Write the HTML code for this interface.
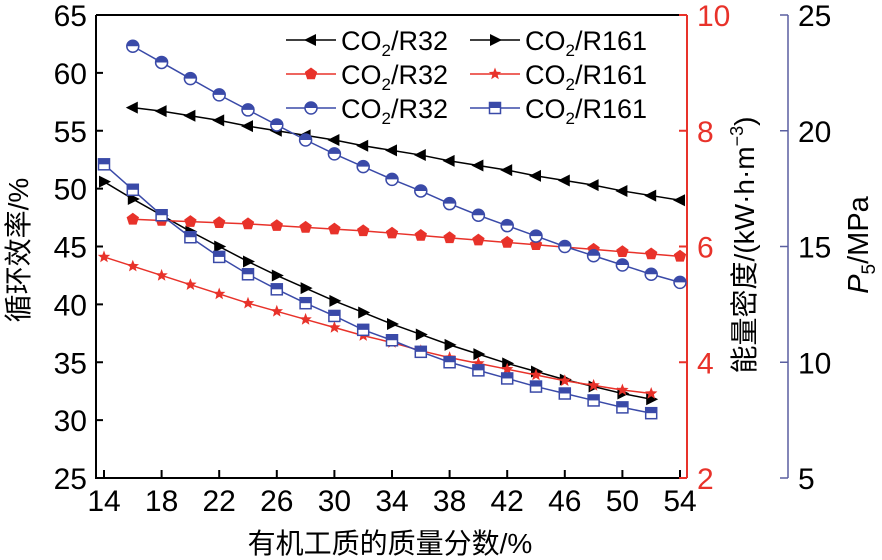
<!DOCTYPE html>
<html><head><meta charset="utf-8"><style>
body{margin:0;background:#fff}
svg{display:block;font-family:"Liberation Sans","Noto Sans CJK SC",sans-serif}
</style></head><body>
<svg id="c" width="882" height="560">
<g id="axes"></g><g id="series"></g><g id="legend"></g>
</svg>
<script>
const xVals16=[16,18,20,22,24,26,28,30,32,34,36,38,40,42,44,46,48,50,52,54];
const xVals14=[14,16,18,20,22,24,26,28,30,32,34,36,38,40,42,44,46,48,50,52];
const effR32=[57.0,56.7,56.3,55.9,55.4,55.0,54.6,54.2,53.7,53.3,52.9,52.4,52.0,51.6,51.1,50.7,50.3,49.8,49.4,49.0];
const effR161=[50.6,49.1,47.7,46.3,45.0,43.7,42.5,41.4,40.3,39.3,38.3,37.4,36.5,35.7,34.9,34.2,33.5,32.9,32.3,31.8];
const edR32=[6.47,6.45,6.43,6.41,6.39,6.36,6.33,6.30,6.27,6.23,6.19,6.15,6.11,6.07,6.03,5.99,5.95,5.91,5.87,5.83];
const edR161=[5.82,5.66,5.50,5.34,5.18,5.02,4.88,4.74,4.60,4.46,4.34,4.20,4.08,3.98,3.88,3.78,3.68,3.60,3.52,3.46];
const pR32=[23.65,22.95,22.25,21.55,20.9,20.25,19.6,19.0,18.45,17.9,17.4,16.85,16.35,15.9,15.45,15.0,14.6,14.2,13.8,13.45];
const pR161=[18.55,17.45,16.35,15.4,14.55,13.8,13.15,12.55,12.0,11.4,10.95,10.45,10.0,9.65,9.3,8.95,8.65,8.35,8.05,7.8];
const xTicks=[14,18,22,26,30,34,38,42,46,50,54];
const yTicks=[25,30,35,40,45,50,55,60,65];
const rTicks=[2,4,6,8,10];
const bTicks=[5,10,15,20,25];

const T=15,B=478,L=96,R=687,BX=788;
const X=v=>104+(v-14)*14.4;
const Y=v=>B-(v-25)/40*(B-T);
const YR=v=>B-(v-2)/8*(B-T);
const YB=v=>B-(v-5)/20*(B-T);
const NS='http://www.w3.org/2000/svg';
function mk(tag,at,par,txt){const e=document.createElementNS(NS,tag);for(const k in at)e.setAttribute(k,at[k]);if(txt!=null)e.textContent=txt;par.appendChild(e);return e;}
const ax=document.getElementById('axes'),se=document.getElementById('series'),lg=document.getElementById('legend');

let e;
e=mk('path',{d:`M${L},${T}V${B}H${R}`,stroke:'#000','stroke-width':2,fill:'none'},ax);

e=mk('line',{x1:L,y1:T,x2:R-8,y2:T,stroke:'#000','stroke-width':2},ax);

e=mk('line',{x1:R,y1:T,x2:R,y2:B,stroke:'#e8322a','stroke-width':2},ax);

e=mk('line',{x1:BX,y1:T,x2:BX,y2:B,stroke:'#5a5fa0','stroke-width':1.5},ax);


yTicks.forEach(v=>{mk('line',{x1:L,x2:L+7,y1:Y(v),y2:Y(v),stroke:'#000','stroke-width':2},ax);
 e=mk('text',{x:L-9,y:Y(v)+11,'text-anchor':'end','font-size':30},ax,v);
 });
xTicks.forEach(v=>{mk('line',{x1:X(v),x2:X(v),y1:B,y2:B-8,stroke:'#000','stroke-width':2},ax);
 e=mk('text',{x:X(v),y:B+33,'text-anchor':'middle','font-size':30},ax,v);
 });
rTicks.forEach(v=>{mk('line',{x1:R-8,x2:R,y1:YR(v),y2:YR(v),stroke:'#e8322a','stroke-width':2},ax);
 e=mk('text',{x:R+10,y:YR(v)+11,'font-size':30,fill:'#e8322a'},ax,v);
 });
bTicks.forEach(v=>{mk('line',{x1:BX-8,x2:BX,y1:YB(v),y2:YB(v),stroke:'#5a5fa0','stroke-width':1.5},ax);
 e=mk('text',{x:BX+10,y:YB(v)+11,'font-size':30,fill:'#000'},ax,v);
 });

e=mk('text',{x:390,y:553,'text-anchor':'middle','font-size':28},ax,'有机工质的质量分数/%');

e=mk('text',{transform:'translate(28,250) rotate(-90)','text-anchor':'middle','font-size':28},ax,'循环效率/%');

e=mk('text',{transform:'translate(754,245) rotate(-90)','text-anchor':'middle','font-size':28},ax);

mk('tspan',{},e,'能量密度/(kW·h·m');mk('tspan',{dy:-11,'font-size':18},e,'−3');mk('tspan',{dy:11},e,')');
e=mk('text',{transform:'translate(868,245) rotate(-90)','text-anchor':'middle','font-size':29},ax);

mk('tspan',{'font-style':'italic'},e,'P');mk('tspan',{dy:7,'font-size':19},e,'5');mk('tspan',{dy:-7},e,'/MPa');

function marker(g,type,x,y,col){
 if(type==='tl')mk('path',{d:`M${x-7},${y}L${x+5},${y-6}L${x+5},${y+6}Z`,fill:'#000'},g);
 else if(type==='tr')mk('path',{d:`M${x+7},${y}L${x-5},${y-6}L${x-5},${y+6}Z`,fill:'#000'},g);
 else if(type==='pent'){let p=[];for(let i=0;i<5;i++){const a=-Math.PI/2+i*2*Math.PI/5;p.push((x+6.5*Math.cos(a)).toFixed(1)+','+(y+6.5*Math.sin(a)).toFixed(1));}mk('polygon',{points:p.join(' '),fill:col},g);}
 else if(type==='star'){let p=[];for(let i=0;i<10;i++){const r=i%2?2.8:6.5,a=-Math.PI/2+i*Math.PI/5;p.push((x+r*Math.cos(a)).toFixed(1)+','+(y+r*Math.sin(a)).toFixed(1));}mk('polygon',{points:p.join(' '),fill:col},g);}
 else if(type==='circ'){mk('circle',{cx:x,cy:y,r:6,fill:'#fff',stroke:col,'stroke-width':1.5},g);mk('path',{d:`M${x-6},${y}A6,6 0 0 1 ${x+6},${y}Z`,fill:col},g);}
 else if(type==='sq'){mk('rect',{x:x-5.5,y:y-5.5,width:11,height:11,fill:'#fff',stroke:col,'stroke-width':1.5},g);mk('rect',{x:x-5.5,y:y-5.5,width:11,height:5.5,fill:col},g);}
}
const defs=[
 {n:'eff-r32',xs:xVals16,ys:effR32,f:Y,c:'#000',m:'tl'},
 {n:'eff-r161',xs:xVals14,ys:effR161,f:Y,c:'#000',m:'tr'},
 {n:'ed-r32',xs:xVals16,ys:edR32,f:YR,c:'#e8322a',m:'pent'},
 {n:'ed-r161',xs:xVals14,ys:edR161,f:YR,c:'#e8322a',m:'star'},
 {n:'p5-r32',xs:xVals16,ys:pR32,f:YB,c:'#3a4aa8',m:'circ'},
 {n:'p5-r161',xs:xVals14,ys:pR161,f:YB,c:'#3a4aa8',m:'sq'}];
defs.forEach(s=>{
 const g=mk('g',{},se);
 
 
 mk('polyline',{points:s.xs.map((x,i)=>X(x)+','+s.f(s.ys[i])).join(' '),fill:'none',stroke:s.c,'stroke-width':1.5},g);
 s.xs.forEach((x,i)=>marker(g,s.m,X(x),s.f(s.ys[i]),s.c));
});
const rows=[[0,1],[2,3],[4,5]];
rows.forEach((r,ri)=>{
 r.forEach((di,ci)=>{
  const s=defs[di],y=40+ri*34,lx=ci?470:286;
  const g=mk('g',{},lg);
  
  
  mk('line',{x1:lx,x2:lx+50,y1:y,y2:y,stroke:s.c,'stroke-width':1.5},g);
  marker(g,s.m,lx+25,y,s.c);
  const t=mk('text',{x:lx+55,y:y+10,'font-size':27},g);
  mk('tspan',{},t,'CO');mk('tspan',{dy:6,'font-size':17},t,'2');mk('tspan',{dy:-6},t,ci?'/R161':'/R32');
 });
});
</script>
</body></html>
